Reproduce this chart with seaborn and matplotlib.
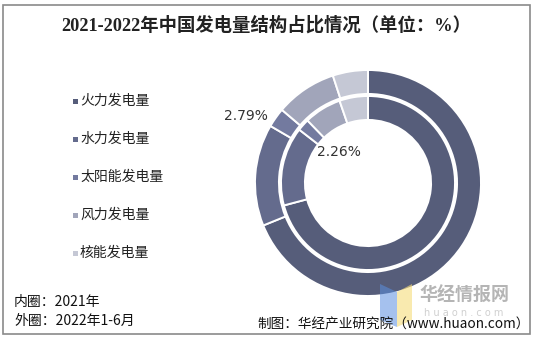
import numpy as np
import pandas as pd
import seaborn as sns
import matplotlib
matplotlib.use("Agg")
import matplotlib.pyplot as plt
from matplotlib.patches import Rectangle, Polygon

# ---- data ----
categories = ["火力发电量", "水力发电量", "太阳能发电量", "风力发电量", "核能发电量"]
inner_2021 = [70.85, 14.65, 2.26, 6.94, 5.30]
outer_2022h1 = [68.87, 14.55, 2.79, 8.76, 5.03]
colors = ["#565d7a", "#646b8d", "#737a9f", "#a1a5ba", "#c5c8d5"]
title = "2021-2022年中国发电量结构占比情况（单位：%）"

W, H = 535, 340
def fx(x): return x / W
def fy(y): return 1 - y / H

sns.set_theme(style="white")
palette = sns.color_palette(colors)
plt.rcParams["font.family"] = ["Noto Sans CJK SC", "DejaVu Sans"]

fig = plt.figure(figsize=(5.35, 3.4), dpi=100)
fig.patch.set_facecolor("white")

# frame
fig.patches.append(Rectangle((fx(3), fy(334)), fx(530) - fx(3), fy(5) - fy(334),
                             transform=fig.transFigure, fill=False,
                             edgecolor="#8a8a8a", linewidth=1.2))

cx, cy, R = 368, 183, 113
ax = fig.add_axes([fx(cx - R), fy(cy + R), 2 * R / W, 2 * R / H])
ax.pie(outer_2022h1, radius=1.0, colors=palette, startangle=90, counterclock=False,
       wedgeprops=dict(width=0.212, edgecolor="white", linewidth=1.4))
ax.pie(inner_2021, radius=0.77, colors=palette, startangle=90, counterclock=False,
       wedgeprops=dict(width=0.212, edgecolor="white", linewidth=1.4))
ax.set_xlim(-1, 1)
ax.set_ylim(-1, 1)
ax.set_aspect("equal")
ax.axis("off")

# value labels
fig.text(fx(246), fy(116), f"{outer_2022h1[2]:.2f}%", ha="center", va="center",
         fontsize=10, color="#333333", family=["DejaVu Sans"])
fig.text(fx(339), fy(152), f"{inner_2021[2]:.2f}%", ha="center", va="center",
         fontsize=10, color="#333333", family=["DejaVu Sans"])

# title
fig.text(fx(266), fy(25), title, ha="center", va="center", fontsize=13.2,
         fontweight="bold", color="#222222",
         family=["Liberation Serif", "Noto Sans CJK SC"])

# legend
for i, (lab, col) in enumerate(zip(categories, palette)):
    y = 101 + 38 * i
    fig.patches.append(Rectangle((fx(73), fy(y + 2.5)), 5 / W, 5 / H,
                                 transform=fig.transFigure, facecolor=col,
                                 edgecolor="none"))
    fig.text(fx(80), fy(y), lab, ha="left", va="center", fontsize=10,
             color="#222222")

# notes
fig.text(fx(14), fy(302), "内圈：2021年", ha="left", va="center", fontsize=10, color="#111111")
fig.text(fx(14), fy(321), "外圈：2022年1-6月", ha="left", va="center", fontsize=10, color="#111111")
fig.text(fx(257), fy(324), "制图：华经产业研究院（www.huaon.com）", ha="left", va="center",
         fontsize=9.8, color="#111111")

# watermark
fig.patches.append(Polygon([(fx(380), fy(284)), (fx(397), fy(292)), (fx(397), fy(327)), (fx(380), fy(320))],
                           closed=True, transform=fig.transFigure, facecolor="#5b8fe0",
                           alpha=0.55, edgecolor="none"))
fig.patches.append(Polygon([(fx(397), fy(292)), (fx(412), fy(284)), (fx(412), fy(320)), (fx(397), fy(327))],
                           closed=True, transform=fig.transFigure, facecolor="#f6dc7a",
                           alpha=0.6, edgecolor="none"))
fig.text(fx(464), fy(295), "华经情报网", ha="center", va="center", fontsize=13,
         fontweight="bold", color="#b5b5b5")
fig.text(fx(464), fy(313), "h u a o n . c o m", ha="center", va="center", fontsize=7,
         color="#d0d0d0", family=["DejaVu Sans"])

fig.savefig("out.png", dpi=100)
